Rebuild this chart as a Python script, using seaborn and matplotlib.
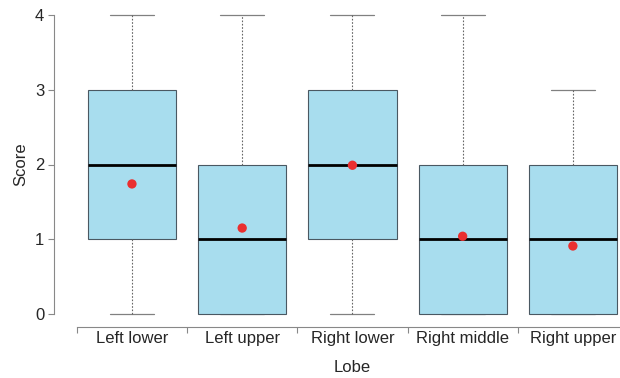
import pandas as pd
import matplotlib
matplotlib.use("Agg")
import matplotlib.pyplot as plt
import seaborn as sns

# summary stats
lobes = ["Left lower", "Left upper", "Right lower", "Right middle", "Right upper"]
whisker_low = [0, 0, 0, 0, 0]
q1 = [1, 0, 1, 0, 0]
median = [2, 1, 2, 1, 1]
q3 = [3, 2, 3, 2, 2]
whisker_high = [4, 4, 4, 4, 3]
means = [1.74, 1.15, 1.99, 1.04, 0.91]

sns.set_style("ticks")
plt.rcParams['font.family'] = ['Liberation Sans', 'DejaVu Sans']

fig = plt.figure(figsize=(6.2, 3.78), dpi=100)
W, H = 620, 378
# axes frame in pixels: x from 54 to 628, y from 15 (top=4) to 314 (bottom=0)
ax = fig.add_axes([54 / W, (H - 314) / H, (628 - 54) / W, (314 - 15) / H])

stats = []
for i, name in enumerate(lobes):
    stats.append({
        "label": name, "whislo": whisker_low[i], "q1": q1[i], "med": median[i],
        "q3": q3[i], "whishi": whisker_high[i], "fliers": [],
    })

parts = ax.bxp(
    stats, positions=range(len(lobes)), widths=0.8, patch_artist=True,
    showfliers=False, capwidths=0.4,
    boxprops=dict(facecolor="#a8ddee", edgecolor="#4a5862", linewidth=0.8),
    medianprops=dict(color="black", linewidth=2.0),
    whiskerprops=dict(color="#666666", linestyle=(0, (1.5, 1.5)), linewidth=0.8),
    capprops=dict(color="#808080", linewidth=0.9),
)
# caps sit on the y limits, keep them whole
for key in ("caps", "whiskers", "boxes", "medians"):
    for art in parts[key]:
        art.set_clip_on(False)
for cap in parts["caps"]:
    cap.set_zorder(1)

df_means = pd.DataFrame({"Lobe": range(len(lobes)), "Mean": means})
sns.scatterplot(data=df_means, x="Lobe", y="Mean", ax=ax, color="#ea2f2f",
                s=45, edgecolor="none", zorder=5)

# x limits so that category i sits at 132 + i*110.3 px
step = 110.3
ax.set_xlim((54 - 132) / step, (628 - 132) / step)
ax.set_ylim(0, 4)

ax.spines["top"].set_visible(False)
ax.spines["right"].set_visible(False)
ax.spines["left"].set_color("#888888")
ax.spines["left"].set_bounds(0, 4)
ax.spines["bottom"].set_color("#888888")
ax.spines["bottom"].set_position(("outward", 9.4))
ax.spines["bottom"].set_bounds(-0.5, 4.5)

ax.set_yticks([0, 1, 2, 3, 4])
ax.tick_params(axis="y", length=4, width=0.8, color="#888888", labelsize=12, pad=3)

ax.set_xticks([i - 0.5 for i in range(len(lobes) + 1)])
ax.set_xticklabels([])
ax.set_xticks(range(len(lobes)), minor=True)
ax.set_xticklabels(lobes, minor=True)
ax.tick_params(axis="x", which="major", length=4, width=0.8, color="#888888")
ax.tick_params(axis="x", which="minor", length=0, labelsize=12, pad=3)

ax.set_xlabel("")
ax.set_ylabel("Score", fontsize=12, labelpad=5)
fig.text(352 / W, 1 - 368 / H, "Lobe", ha="center", va="center", fontsize=12)

fig.savefig("out.png", dpi=100)
